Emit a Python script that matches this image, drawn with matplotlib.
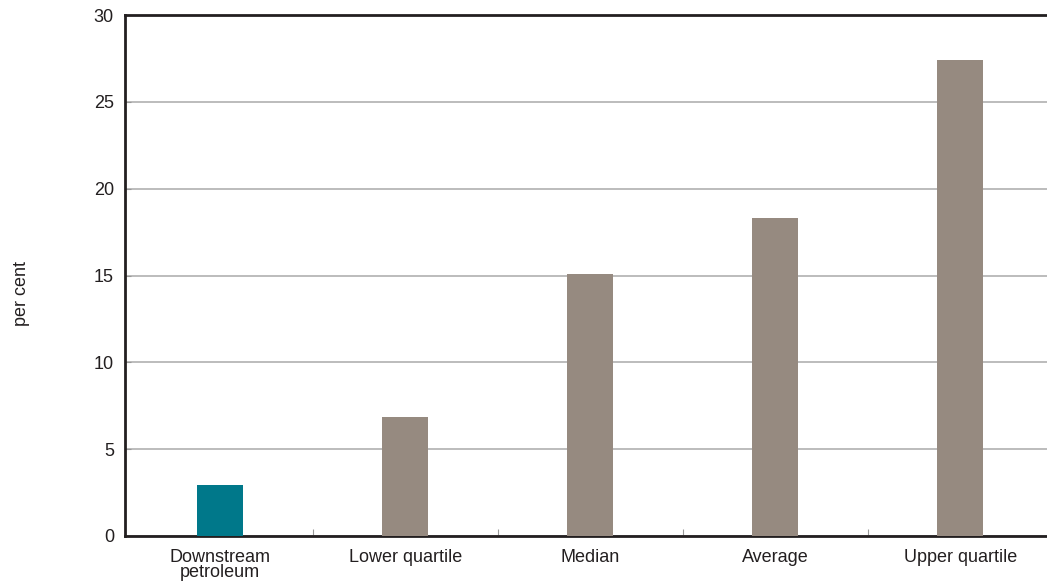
import matplotlib
matplotlib.use('Agg')
from matplotlib import pyplot as plt

categories = ['Downstream\npetroleum', 'Lower quartile', 'Median', 'Average', 'Upper quartile']
values = [2.95, 6.85, 15.1, 18.3, 27.4]
bar_colors = ['#00788A', '#968A80', '#968A80', '#968A80', '#968A80']
y_ticks = [0, 5, 10, 15, 20, 25, 30]

plt.rcParams['font.family'] = ['Liberation Sans', 'DejaVu Sans']

fig = plt.figure(figsize=(10.47, 5.85), dpi=100)
# axes runs off the right edge of the picture, like the original
ax = fig.add_axes([125 / 1047, 1 - 536 / 585, 925 / 1047, 521 / 585])

x = list(range(len(categories)))
ax.bar(x, values, width=0.25, color=bar_colors, zorder=3)

ax.set_xlim(-0.515, 4.485)
ax.set_ylim(0, 30)
ax.set_yticks(y_ticks)
ax.set_yticklabels([str(v) for v in y_ticks], fontsize=13, color='#231F20')
ax.yaxis.grid(True, color='#B0B0B0', linewidth=1.2, zorder=1)

# category labels without tick marks, small separator ticks between them
ax.set_xticks(x)
ax.set_xticklabels(categories, fontsize=13, color='#231F20', linespacing=0.85)
ax.tick_params(axis='x', length=0, pad=9)
ax.set_xticks([i + 0.5 for i in range(len(categories) - 1)], minor=True)
ax.tick_params(axis='x', which='minor', direction='in', length=5, width=0.8, color='#999999')
ax.tick_params(axis='y', direction='in', length=4, width=0.8, color='#999999', pad=8)

for side in ['left', 'bottom', 'top']:
    ax.spines[side].set_color('#231F20')
    ax.spines[side].set_linewidth(2)
ax.spines['right'].set_visible(False)

fig.text(21 / 1047, 1 - 293 / 585, 'per cent', rotation=90, va='center', ha='center',
         fontsize=13, color='#231F20')

fig.savefig('out.png', dpi=100)
